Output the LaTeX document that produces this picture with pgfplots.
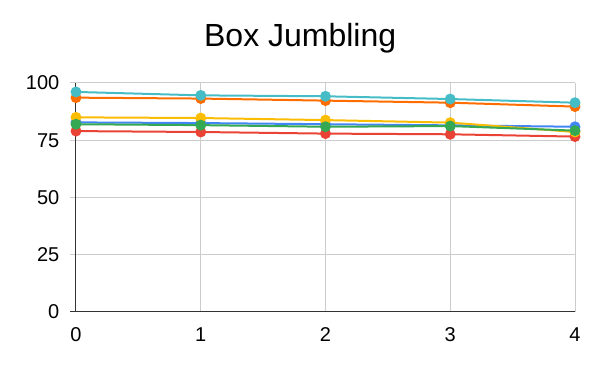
\documentclass[border=0pt]{standalone}
\usepackage{fontspec}
\setmainfont{Liberation Sans}
\usepackage{pgfplots}
\pgfplotsset{compat=1.18}

\definecolor{gblue}{HTML}{4285F4}
\definecolor{gred}{HTML}{EA4335}
\definecolor{gyellow}{HTML}{FBBC04}
\definecolor{ggreen}{HTML}{34A853}
\definecolor{gorange}{HTML}{FF6D01}
\definecolor{gcyan}{HTML}{46BDC6}
\definecolor{gridgray}{HTML}{CCCCCC}

\begin{document}
\begin{tikzpicture}
\begin{axis}[
    scale only axis,
    width=374.25pt,
    height=171.75pt,
    xmin=0, xmax=4,
    ymin=0, ymax=100,
    xtick={0,1,2,3,4},
    ytick={0,25,50,75,100},
    grid=major,
    grid style={gridgray, line width=0.75pt},
    axis line style={draw=none},
    tick style={draw=none},
    ticklabel style={font=\fontsize{15}{17}\selectfont},
    /pgf/number format/assume math mode=true,
    yticklabel style={xshift=-9pt},
    xticklabel style={yshift=-8pt},
    clip=false,
    every axis plot/.append style={line width=1.5pt, mark=*, mark size=3.3pt},
]
\draw[gridgray, line width=0.75pt] (axis cs:0,100) -- ++(-4.5pt,0);
\draw[gridgray, line width=0.75pt] (axis cs:0,75) -- ++(-4.5pt,0);
\draw[gridgray, line width=0.75pt] (axis cs:0,50) -- ++(-4.5pt,0);
\draw[gridgray, line width=0.75pt] (axis cs:0,25) -- ++(-4.5pt,0);
\draw[black!80, line width=0.75pt] (axis cs:0,0) -- ++(-4.5pt,0);
\draw[black!80, line width=0.75pt] (axis cs:0,0) -- (axis cs:4,0);
\draw[black!80, line width=0.75pt] (axis cs:0,0) -- (axis cs:0,100);
\addplot[color=gblue] coordinates {(0,82.8) (1,82.5) (2,82.0) (3,81.5) (4,80.9)};
\addplot[color=gred] coordinates {(0,79.0) (1,78.6) (2,77.9) (3,77.6) (4,76.6)};
\addplot[color=gyellow] coordinates {(0,85.0) (1,84.7) (2,83.8) (3,82.7) (4,78.6)};
\addplot[color=ggreen] coordinates {(0,82.0) (1,81.6) (2,80.9) (3,81.2) (4,79.2)};
\addplot[color=gorange] coordinates {(0,93.6) (1,93.2) (2,92.3) (3,91.4) (4,89.7)};
\addplot[color=gcyan] coordinates {(0,96.1) (1,94.6) (2,94.2) (3,93.0) (4,91.4)};
\node[font=\fontsize{24}{28}\selectfont, anchor=base] at ([xshift=-19pt, yshift=27.5pt]axis description cs:0.5,1) {Box Jumbling};
\end{axis}
\path (current axis.south west) ++(-57pt,-44.25pt) coordinate (bl);
\path (current axis.north east) ++(18.75pt,62.25pt) coordinate (tr);
\useasboundingbox (bl) rectangle (tr);
\end{tikzpicture}
\end{document}
